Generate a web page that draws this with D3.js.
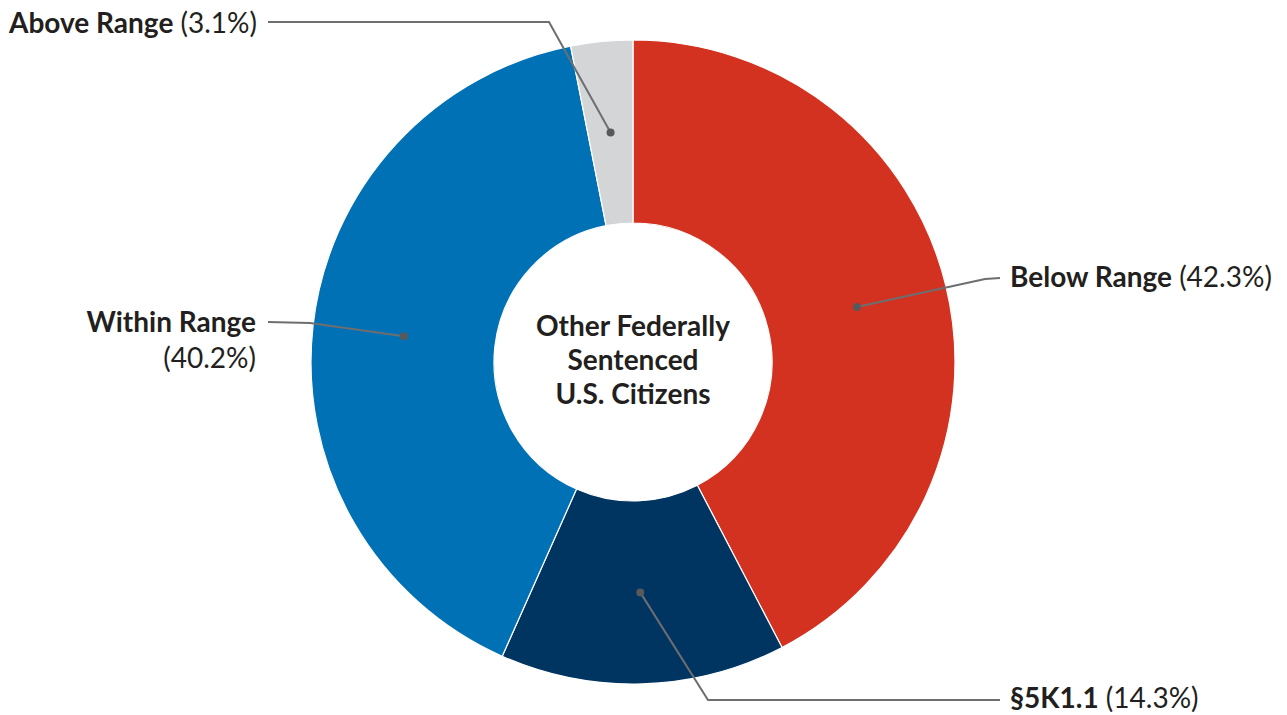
<!DOCTYPE html>
<html>
<head>
<meta charset="utf-8">
<script src="https://cdn.jsdelivr.net/npm/d3@7"></script>
<style>
  html, body { margin: 0; padding: 0; background: #ffffff; }
  svg { display: block; }
  text { font-family: Lato, "Open Sans", sans-serif; fill: #231f20; }
</style>
</head>
<body>
<svg id="chart" width="1287" height="715"></svg>
<script>
// Sentence type shares, clockwise from 12 o'clock
const categories = ["Below Range", "§5K1.1", "Within Range", "Above Range"];
const shares = [42.3, 14.3, 40.2, 3.1];
const colors = ["#d33220", "#003461", "#0071b5", "#d4d5d7"];
const centerTitle = ["Other Federally", "Sentenced", "U.S. Citizens"];

// Callout placement: elbow point, end of leader, text anchor and line breaks
const callouts = [
  { elbow: [985, 279], end: [1000, 278], tx: 1010, ty: 287, anchor: "start", split: false },
  { elbow: [708, 700], end: [1000, 700], tx: 1010, ty: 708, anchor: "start", split: false },
  { elbow: [310, 323], end: [268, 322], tx: 256, ty: 332, anchor: "end", split: true },
  { elbow: [549, 22], end: [268, 22], tx: 257, ty: 33, anchor: "end", split: false }
];

const width = 1287, height = 715;
const cx = 633, cy = 362;
const outerR = 322, innerR = 139;

const svg = d3.select("#chart");
const g = svg.append("g").attr("transform", `translate(${cx},${cy})`);

const pie = d3.pie().sort(null).value(d => d.value);
const data = categories.map((c, i) => ({ name: c, value: shares[i], color: colors[i], callout: callouts[i] }));
const arcs = pie(data);

const arc = d3.arc().innerRadius(innerR).outerRadius(outerR);

g.selectAll("path.slice")
  .data(arcs)
  .join("path")
  .attr("class", "slice")
  .attr("d", arc)
  .attr("fill", d => d.data.color)
  .attr("stroke", "#ffffff")
  .attr("stroke-width", 1.2);

// Leader lines from each slice centroid
const lines = svg.append("g");
arcs.forEach(d => {
  const [x, y] = arc.centroid(d);
  const c = d.data.callout;
  const pts = [[cx + x, cy + y], c.elbow, c.end];
  lines.append("path")
    .attr("d", d3.line()(pts))
    .attr("fill", "none")
    .attr("stroke", "#6d6e70")
    .attr("stroke-width", 2);
  lines.append("circle")
    .attr("cx", cx + x)
    .attr("cy", cy + y)
    .attr("r", 4)
    .attr("fill", "#58595b");
});

// Callout text
const labels = svg.append("g").style("font-size", "28px");
arcs.forEach(d => {
  const c = d.data.callout;
  const pct = `(${d.data.value.toFixed(1)}%)`;
  const t = labels.append("text")
    .attr("x", c.tx)
    .attr("y", c.ty)
    .attr("text-anchor", c.anchor);
  t.append("tspan").attr("font-weight", 700).text(d.data.name);
  if (c.split) {
    t.append("tspan").attr("x", c.tx).attr("dy", 36).attr("font-weight", 400).text(pct);
  } else {
    t.append("tspan").attr("font-weight", 400).text(" " + pct);
  }
});

// Center title
const title = svg.append("text")
  .attr("text-anchor", "middle")
  .style("font-size", "28px")
  .style("font-weight", 700);
centerTitle.forEach((line, i) => {
  title.append("tspan")
    .attr("x", cx)
    .attr("y", 336 + i * 34)
    .text(line);
});
</script>
</body>
</html>
